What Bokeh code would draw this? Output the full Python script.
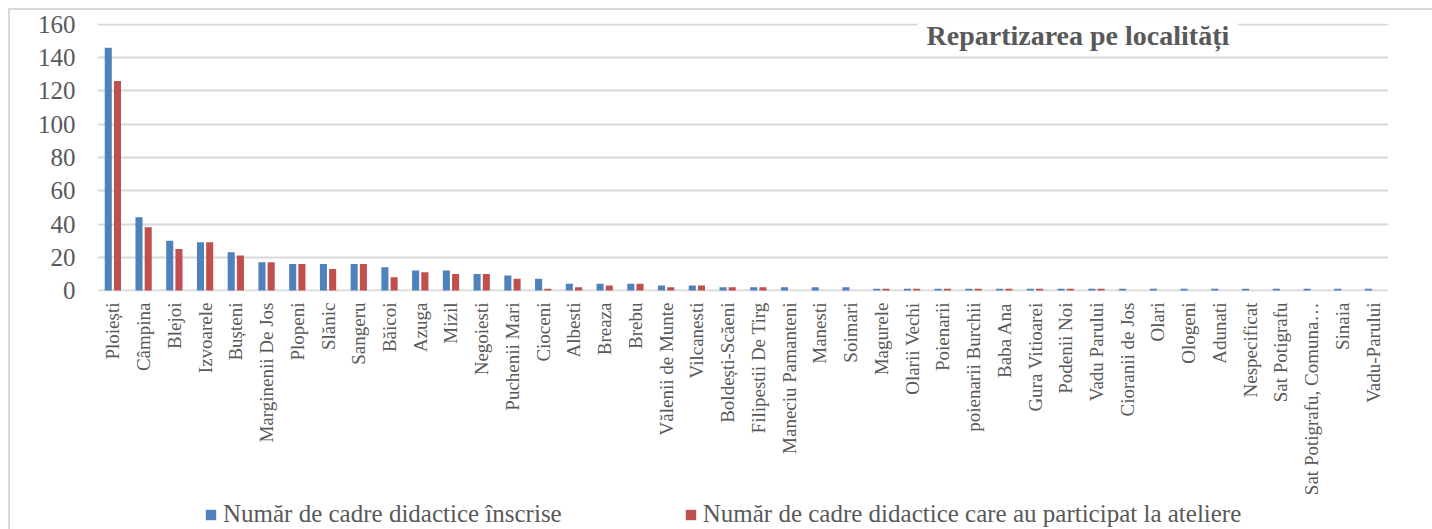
from bokeh.plotting import figure
from bokeh.models import (ColumnDataSource, FactorRange, Range1d, FixedTicker, Legend,
                          LegendItem, Label, BoxAnnotation)
from bokeh.layouts import column
from bokeh.transform import dodge
from bokeh.embed import file_html
from bokeh.resources import INLINE
import math

categories = ["Ploiești", "Câmpina", "Blejoi", "Izvoarele", "Bușteni", "Marginenii De Jos",
              "Plopeni", "Slănic", "Sangeru", "Băicoi", "Azuga", "Mizil", "Negoiesti",
              "Puchenii Mari", "Cioceni", "Albesti", "Breaza", "Brebu", "Vălenii de Munte",
              "Vilcanesti", "Boldești-Scăeni", "Filipestii De Tirg", "Maneciu Pamanteni",
              "Manesti", "Soimari", "Magurele", "Olarii Vechi", "Poienarii",
              "poienarii Burchii", "Baba Ana", "Gura Vitioarei", "Podenii Noi",
              "Vadu Parului", "Cioranii de Jos", "Olari", "Ologeni", "Adunati",
              "Nespecificat", "Sat Potigrafu", "Sat Potigrafu, Comuna…", "Sinaia",
              "Vadu-Parului"]
inscrise = [146, 44, 30, 29, 23, 17, 16, 16, 16, 14, 12, 12, 10, 9, 7, 4, 4, 4, 3, 3,
            2, 2, 2, 2, 2, 1, 1, 1, 1, 1, 1, 1, 1, 1, 1, 1, 1, 1, 1, 1, 1, 1]
participat = [126, 38, 25, 29, 21, 17, 16, 13, 16, 8, 11, 10, 10, 7, 1, 2, 3, 4, 2, 3,
              2, 2, 0, 0, 0, 1, 1, 1, 1, 1, 1, 1, 1, 0, 0, 0, 0, 0, 0, 0, 0, 0]
y_ticks = [0, 20, 40, 60, 80, 100, 120, 140, 160]
series_names = ["Număr de cadre didactice înscrise",
                "Număr de cadre didactice care au participat la ateliere"]
title_text = "Repartizarea pe localități"

BLUE = "#4f81bd"
RED = "#c0504d"
GRID = "#d9d9d9"
TXT = "#595959"
FONT = "Liberation Serif"
W = 1422

src = ColumnDataSource(dict(cat=categories, a=inscrise, b=participat))

p = figure(width=W, height=488, output_backend="svg", toolbar_location=None,
           x_range=FactorRange(factors=categories, range_padding=0),
           y_range=Range1d(-0.6, 160.6),
           min_border_left=87, min_border_right=44, min_border_top=13,
           min_border_bottom=206)
p.outline_line_color = None
p.background_fill_color = "white"
p.border_fill_color = "white"

r1 = p.vbar(x=dodge("cat", -0.15, range=p.x_range), top="a", width=0.23, bottom=0,
            source=src, fill_color=BLUE, line_color=None)
r2 = p.vbar(x=dodge("cat", 0.15, range=p.x_range), top="b", width=0.23, bottom=0,
            source=src, fill_color=RED, line_color=None)

p.xgrid.grid_line_color = None
p.ygrid.grid_line_color = GRID
p.ygrid.grid_line_width = 2
p.yaxis.ticker = FixedTicker(ticks=y_ticks)
p.yaxis.axis_line_color = None
p.yaxis.major_tick_line_color = None
p.yaxis.minor_tick_line_color = None
p.yaxis.major_tick_out = 0
p.yaxis.major_tick_in = 0
p.yaxis.major_label_text_font = FONT
p.yaxis.major_label_text_font_size = "25px"
p.yaxis.major_label_text_color = TXT
p.yaxis.major_label_standoff = 22

p.xaxis.axis_line_color = None
p.xaxis.major_tick_line_color = None
p.xaxis.minor_tick_line_color = None
p.xaxis.major_tick_out = 0
p.xaxis.major_tick_in = 0
p.xaxis.major_label_orientation = math.pi / 2
p.xaxis.major_label_text_font = FONT
p.xaxis.major_label_text_font_size = "19px"
p.xaxis.major_label_text_color = TXT
p.xaxis.major_label_standoff = 11

box = BoxAnnotation(left=26.67, right=37.11, bottom=144.2, top=170,
                    fill_color="white", fill_alpha=1.0, line_color=None)
p.add_layout(box)
title = Label(x=26.97, y=153.2, text=title_text, text_font=FONT,
              text_font_size="28px", text_font_style="bold", text_color=TXT,
              text_align="left", text_baseline="middle")
p.add_layout(title)

# legend strip under the chart (its frame is aligned with the chart's frame)
q = figure(width=W, height=31, output_backend="svg", toolbar_location=None,
           x_range=Range1d(0, 1), y_range=Range1d(0, 1),
           x_axis_location=None, y_axis_location=None, min_border=0,
           min_border_left=0, min_border_right=0, min_border_top=0,
           min_border_bottom=0)
q.outline_line_color = None
q.grid.grid_line_color = None
q.border_fill_color = "white"
# legend swatches only: single proxy points placed outside the visible range
lr1 = q.vbar(x=[-5], top=[-5], bottom=[-6], width=0.1, fill_color=BLUE, line_color=None)
lr2 = q.vbar(x=[-5], top=[-5], bottom=[-6], width=0.1, fill_color=RED, line_color=None)
legend = Legend(items=[LegendItem(label=series_names[0], renderers=[lr1]),
                       LegendItem(label=series_names[1], renderers=[lr2])],
                orientation="horizontal", location=(107, 1),
                label_text_font=FONT, label_text_font_size="25px",
                label_text_color=TXT, glyph_width=13, glyph_height=13,
                label_standoff=6, spacing=122, padding=0, margin=0,
                border_line_color=None, background_fill_alpha=0)
q.add_layout(legend, "center")

layout = column(p, q, spacing=0,
                styles={"margin-left": "8px", "margin-top": "8px",
                        "border-left": "2px solid #d9d9d9",
                        "border-top": "2px solid #d9d9d9"})

open("out.html", "w").write(file_html(layout, INLINE))
